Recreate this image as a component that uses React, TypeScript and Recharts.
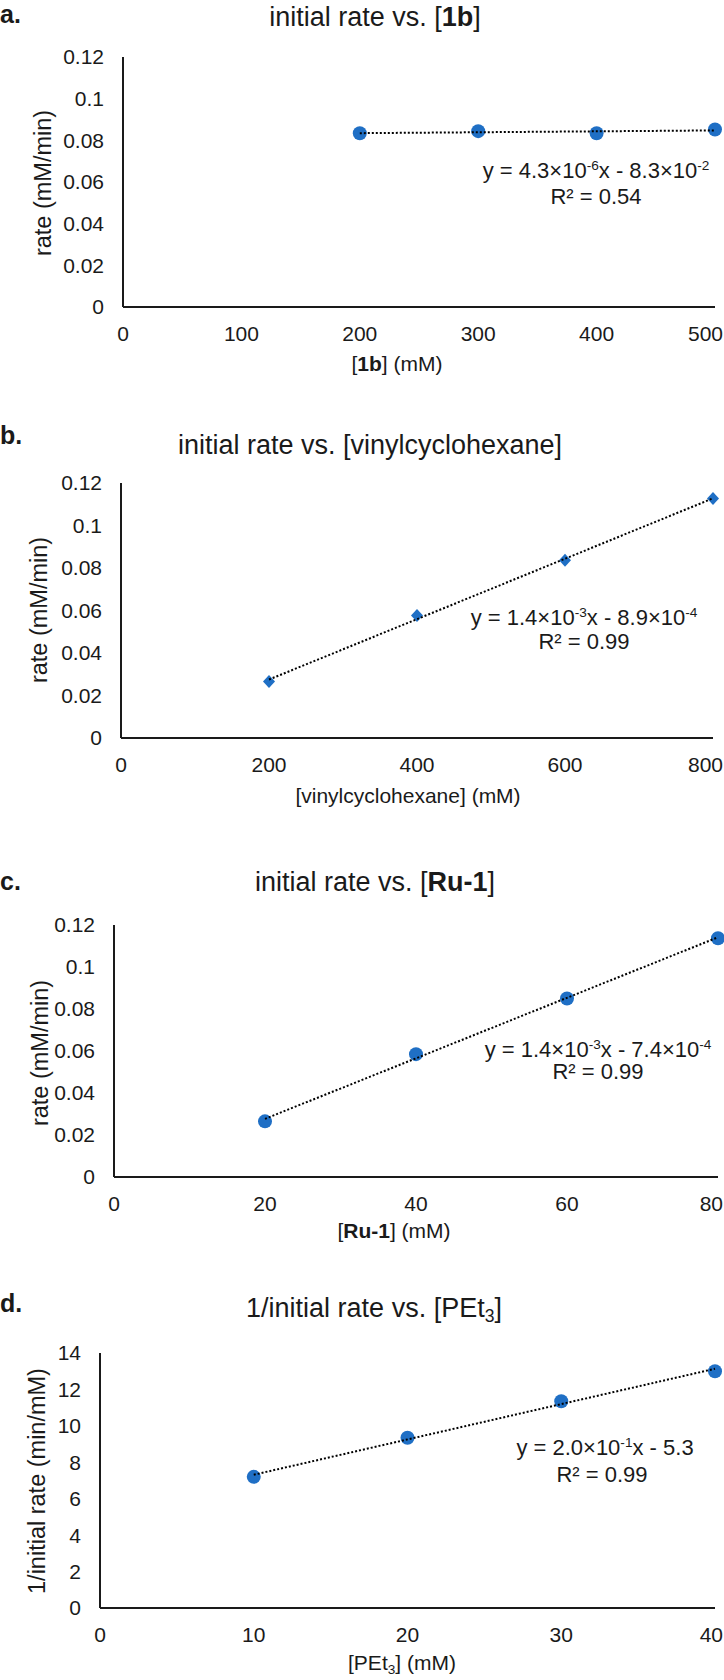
import React from "react";
import { ScatterChart, Scatter, XAxis, YAxis } from "recharts";

const FONT = '"Liberation Sans", Arial, Helvetica, sans-serif';
const INK = "#1a1a1a";
const BLUE = "#1f6fc5";
const W = 724;

// a. rate vs [1b]
const conc1b = [200, 300, 400, 500];
const rate1b = [0.0834, 0.0844, 0.0834, 0.0852];
// b. rate vs [vinylcyclohexane]
const concVch = [200, 400, 600, 800];
const rateVch = [0.0266, 0.0577, 0.0836, 0.1127];
// c. rate vs [Ru-1]
const concRu = [20, 40, 60, 80];
const rateRu = [0.0265, 0.0585, 0.085, 0.1137];
// d. 1/rate vs [PEt3]
const concPEt3 = [10, 20, 30, 40];
const invRatePEt3 = [7.2, 9.35, 11.35, 13.0];

const rateTicks = [0, 0.02, 0.04, 0.06, 0.08, 0.1, 0.12];
const invRateTicks = [0, 2, 4, 6, 8, 10, 12, 14];
const ticks1b = [0, 100, 200, 300, 400, 500];
const ticksVch = [0, 200, 400, 600, 800];
const ticksRu = [0, 20, 40, 60, 80];
const ticksPEt3 = [0, 10, 20, 30, 40];

// least-squares trendline over the measured range (like Excel's linear trendline)
function trendline(xs: number[], ys: number[]) {
  const n = xs.length;
  const mx = xs.reduce((s, v) => s + v, 0) / n;
  const my = ys.reduce((s, v) => s + v, 0) / n;
  let sxy = 0;
  let sxx = 0;
  xs.forEach((x, i) => {
    sxy += (x - mx) * (ys[i] - my);
    sxx += (x - mx) * (x - mx);
  });
  const m = sxy / sxx;
  const b = my - m * mx;
  const lo = Math.min(...xs);
  const hi = Math.max(...xs);
  return [
    { x: lo, y: m * lo + b },
    { x: hi, y: m * hi + b },
  ];
}

function Txt({
  x,
  y,
  size = 21,
  rotate,
  children,
}: {
  x: number;
  y: number;
  size?: number;
  rotate?: boolean;
  children: React.ReactNode;
}) {
  return (
    <div
      style={{
        position: "absolute",
        left: x,
        top: y,
        transform: `translate(-50%, -50%)${rotate ? " rotate(-90deg)" : ""}`,
        fontSize: size,
        whiteSpace: "nowrap",
        lineHeight: 1,
        color: INK,
      }}
    >
      {children}
    </div>
  );
}

const Sup = ({ children }: { children: React.ReactNode }) => (
  <span style={{ fontSize: "0.62em", position: "relative", top: "-0.6em" }}>{children}</span>
);
const Sub = ({ children }: { children: React.ReactNode }) => (
  <span style={{ fontSize: "0.65em", position: "relative", top: "0.3em" }}>{children}</span>
);

const circle = (p: any) => <circle cx={p.cx} cy={p.cy} r={7} fill={BLUE} />;
const diamond = (p: any) => (
  <polygon
    points={`${p.cx},${p.cy - 6.5} ${p.cx + 6},${p.cy} ${p.cx},${p.cy + 6.5} ${p.cx - 6},${p.cy}`}
    fill={BLUE}
  />
);

// x tick that keeps the last label inside the frame
function XTick(props: any) {
  const { x, y, payload } = props;
  const label = String(payload.value);
  const half = label.length * 6;
  const atEdge = x + half > W;
  return (
    <text
      x={atEdge ? W - 1 : x}
      y={y}
      dy="0.71em"
      textAnchor={atEdge ? "end" : "middle"}
      fill={INK}
      fontSize={21}
      fontFamily={FONT}
    >
      {label}
    </text>
  );
}

interface PanelProps {
  top: number;
  plot: { left: number; right: number; top: number; bottom: number };
  xs: number[];
  ys: number[];
  xTicks: number[];
  yTicks: number[];
  marker: (p: any) => React.ReactElement;
  letter: string;
  letterY: number;
  title: React.ReactNode;
  titlePos: [number, number];
  xTitle: React.ReactNode;
  xTitlePos: [number, number];
  yTitle: string;
  yTitlePos: [number, number];
  eq: React.ReactNode;
  eqPos: [number, number];
  r2: string;
  r2Pos: [number, number];
}

function Panel(p: PanelProps) {
  const H = 420;
  const xAxisH = 40;
  const points = p.xs.map((x, i) => ({ x, y: p.ys[i] }));
  const fit = trendline(p.xs, p.ys);
  return (
    <div style={{ position: "absolute", left: 0, top: p.top, width: W, height: H }}>
      <ScatterChart
        width={W}
        height={H}
        margin={{
          top: p.plot.top,
          right: W - p.plot.right,
          left: 0,
          bottom: H - p.plot.bottom - xAxisH,
        }}
      >
        <XAxis
          type="number"
          dataKey="x"
          domain={[p.xTicks[0], p.xTicks[p.xTicks.length - 1]]}
          ticks={p.xTicks}
          interval={0}
          tickLine={false}
          tickSize={0}
          tickMargin={19}
          height={xAxisH}
          axisLine={{ stroke: INK, strokeWidth: 2 }}
          tick={<XTick />}
        />
        <YAxis
          type="number"
          dataKey="y"
          domain={[p.yTicks[0], p.yTicks[p.yTicks.length - 1]]}
          ticks={p.yTicks}
          interval={0}
          width={p.plot.left}
          tickLine={false}
          tickSize={0}
          tickMargin={19}
          axisLine={{ stroke: INK, strokeWidth: 2 }}
          tick={{ fill: INK, fontSize: 21, fontFamily: FONT }}
        />
        <Scatter data={points} shape={p.marker} isAnimationActive={false} />
        <Scatter
          data={fit}
          line={{ stroke: "#000", strokeWidth: 2, strokeDasharray: "2 2" }}
          shape={() => <g />}
          isAnimationActive={false}
        />
      </ScatterChart>
      <div
        style={{
          position: "absolute",
          left: 0,
          top: p.letterY,
          transform: "translateY(-50%)",
          fontSize: 25,
          fontWeight: 700,
          lineHeight: 1,
          color: INK,
        }}
      >
        {p.letter}
      </div>
      <Txt x={p.titlePos[0]} y={p.titlePos[1]} size={27}>{p.title}</Txt>
      <Txt x={p.xTitlePos[0]} y={p.xTitlePos[1]}>{p.xTitle}</Txt>
      <Txt x={p.yTitlePos[0]} y={p.yTitlePos[1]} size={23.5} rotate>{p.yTitle}</Txt>
      <Txt x={p.eqPos[0]} y={p.eqPos[1]} size={22}>{p.eq}</Txt>
      <Txt x={p.r2Pos[0]} y={p.r2Pos[1]} size={22}>{p.r2}</Txt>
    </div>
  );
}

export default function App() {
  return (
    <div
      style={{
        position: "absolute",
        left: 0,
        top: 0,
        width: W,
        height: 1680,
        background: "#fff",
        fontFamily: FONT,
        overflow: "hidden",
      }}
    >
      <Panel
        top={0}
        plot={{ left: 123, right: 715, top: 57, bottom: 307 }}
        xs={conc1b}
        ys={rate1b}
        xTicks={ticks1b}
        yTicks={rateTicks}
        marker={circle}
        letter="a."
        letterY={14}
        title={<>initial rate vs. [<b>1b</b>]</>}
        titlePos={[375, 17]}
        xTitle={<>[<b>1b</b>] (mM)</>}
        xTitlePos={[397, 363]}
        yTitle="rate (mM/min)"
        yTitlePos={[44, 183]}
        eq={<>y = 4.3×10<Sup>-6</Sup>x - 8.3×10<Sup>-2</Sup></>}
        eqPos={[596, 171]}
        r2="R² = 0.54"
        r2Pos={[596, 197]}
      />
      <Panel
        top={420}
        plot={{ left: 121, right: 713, top: 63, bottom: 318 }}
        xs={concVch}
        ys={rateVch}
        xTicks={ticksVch}
        yTicks={rateTicks}
        marker={diamond}
        letter="b."
        letterY={15}
        title="initial rate vs. [vinylcyclohexane]"
        titlePos={[370, 25]}
        xTitle="[vinylcyclohexane] (mM)"
        xTitlePos={[408, 375]}
        yTitle="rate (mM/min)"
        yTitlePos={[40, 190]}
        eq={<>y = 1.4×10<Sup>-3</Sup>x - 8.9×10<Sup>-4</Sup></>}
        eqPos={[584, 198]}
        r2="R² = 0.99"
        r2Pos={[584, 222]}
      />
      <Panel
        top={840}
        plot={{ left: 114, right: 718, top: 85, bottom: 337 }}
        xs={concRu}
        ys={rateRu}
        xTicks={ticksRu}
        yTicks={rateTicks}
        marker={circle}
        letter="c."
        letterY={41}
        title={<>initial rate vs. [<b>Ru-1</b>]</>}
        titlePos={[375, 42]}
        xTitle={<>[<b>Ru-1</b>] (mM)</>}
        xTitlePos={[394, 390]}
        yTitle="rate (mM/min)"
        yTitlePos={[41, 213]}
        eq={<>y = 1.4×10<Sup>-3</Sup>x - 7.4×10<Sup>-4</Sup></>}
        eqPos={[598, 210]}
        r2="R² = 0.99"
        r2Pos={[598, 232]}
      />
      <Panel
        top={1260}
        plot={{ left: 100, right: 715, top: 93, bottom: 348 }}
        xs={concPEt3}
        ys={invRatePEt3}
        xTicks={ticksPEt3}
        yTicks={invRateTicks}
        marker={circle}
        letter="d."
        letterY={43}
        title={<>1/initial rate vs. [PEt<Sub>3</Sub>]</>}
        titlePos={[374, 48]}
        xTitle={<>[PEt<Sub>3</Sub>] (mM)</>}
        xTitlePos={[402, 402]}
        yTitle="1/initial rate (min/mM)"
        yTitlePos={[38, 221]}
        eq={<>y = 2.0×10<Sup>-1</Sup>x - 5.3</>}
        eqPos={[605, 188]}
        r2="R² = 0.99"
        r2Pos={[602, 215]}
      />
    </div>
  );
}
